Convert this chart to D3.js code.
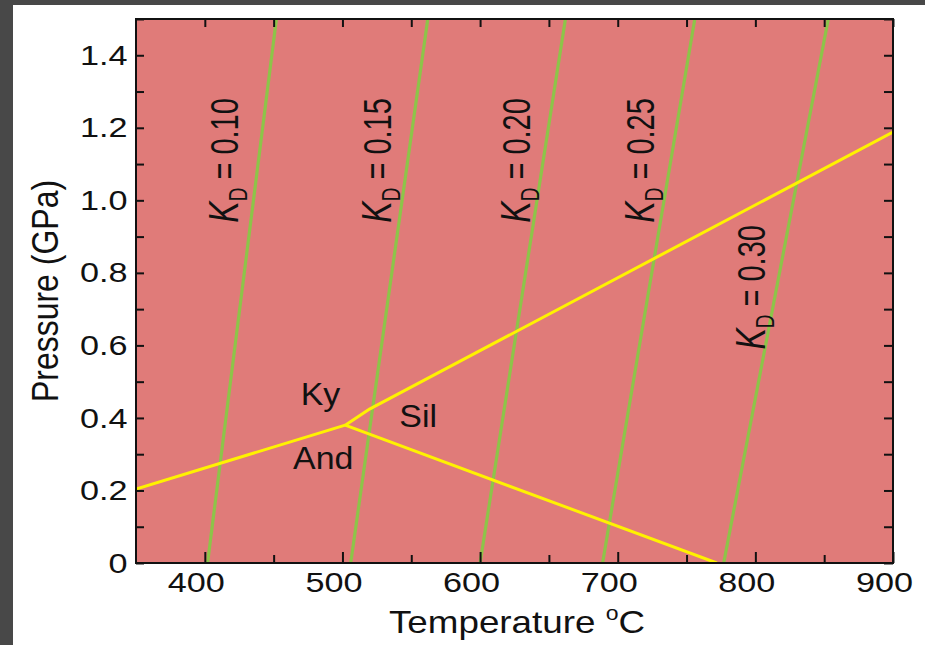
<!DOCTYPE html>
<html>
<head>
<meta charset="utf-8">
<script src="https://cdn.jsdelivr.net/npm/d3@7"></script>
<style>
  body { margin: 0; background: #fff; }
  svg { display: block; font-family: "Liberation Sans", Arial, sans-serif; }
</style>
</head>
<body>
<script>
const width = 925, height = 645;
const margin = {top: 19, right: 32, bottom: 82, left: 136};

// KD isopleths: temperature (°C) where each line meets P = 0 and P = 1.5 GPa
const kdNames = ["0.10", "0.15", "0.20", "0.25", "0.30"];
const kdTempBottom = [402, 506, 600, 689, 777];
const kdTempTop = [452, 562, 662, 756, 853];
// label spots: T of the text baseline, P of the text middle
const kdLabelT = [424, 535, 636, 726, 807];
const kdLabelP = [1.11, 1.11, 1.11, 1.11, 0.76];

// Al2SiO5 reaction lines, [T, P]
const kyAnd = [[350, 0.204], [502, 0.38]];
const kySil = [[502, 0.38], [520, 0.425], [900, 1.188]];
const andSil = [[502, 0.38], [772, 0]];
const fieldNames = ["Ky", "Sil", "And"];
const fieldT = [484, 555, 486];
const fieldP = [0.436, 0.375, 0.259];

const xTicks = [400, 450, 500, 550, 600, 650, 700, 750, 800, 850, 900];
const xLabels = [400, 500, 600, 700, 800, 900];
const yTicks = [0, 0.1, 0.2, 0.3, 0.4, 0.5, 0.6, 0.7, 0.8, 0.9, 1.0, 1.1, 1.2, 1.3, 1.4, 1.5];
const yLabels = [0, 0.2, 0.4, 0.6, 0.8, 1.0, 1.2, 1.4];

const x = d3.scaleLinear().domain([350, 900]).range([margin.left, width - margin.right]);
const y = d3.scaleLinear().domain([0, 1.5]).range([height - margin.bottom, margin.top]);

const svg = d3.select("body").append("svg").attr("width", width).attr("height", height);

// dark frame of the screenshot
svg.append("rect").attr("width", width).attr("height", height).attr("fill", "#484848");
svg.append("rect").attr("x", 13).attr("y", 5).attr("width", width - 13).attr("height", height - 5).attr("fill", "#fff");

svg.append("clipPath").attr("id", "plot")
  .append("rect")
  .attr("x", x(350)).attr("y", y(1.5))
  .attr("width", x(900) - x(350)).attr("height", y(0) - y(1.5));

svg.append("rect")
  .attr("x", x(350)).attr("y", y(1.5))
  .attr("width", x(900) - x(350)).attr("height", y(0) - y(1.5))
  .attr("fill", "#e07b79");

const plot = svg.append("g").attr("clip-path", "url(#plot)");

const line = d3.line().x(d => x(d[0])).y(d => y(d[1]));

// green KD lines
plot.selectAll(".kd")
  .data(kdNames)
  .join("path")
  .attr("class", "kd")
  .attr("fill", "none")
  .attr("stroke", "#8dc449")
  .attr("stroke-width", 3.2)
  .attr("d", (d, i) => line([[kdTempBottom[i], 0], [kdTempTop[i], 1.5]]));

// yellow reaction lines
plot.selectAll(".rx")
  .data([kyAnd, kySil, andSil])
  .join("path")
  .attr("class", "rx")
  .attr("fill", "none")
  .attr("stroke", "#fff200")
  .attr("stroke-width", 3)
  .attr("stroke-linejoin", "round")
  .attr("d", line);

// KD labels, rotated
const kdText = svg.selectAll(".kdlabel")
  .data(kdNames)
  .join("text")
  .attr("class", "kdlabel")
  .attr("transform", (d, i) => `translate(${x(kdLabelT[i])},${y(kdLabelP[i])}) scale(1.32,1) rotate(-90)`)
  .attr("text-anchor", "middle")
  .attr("font-size", 29)
  .attr("fill", "#111");
kdText.append("tspan").attr("font-style", "italic").attr("font-size", 32).text("K");
kdText.append("tspan").attr("font-size", 19).attr("dy", 7).text("D");
kdText.append("tspan").attr("dy", -7).text(d => " = " + d);

// field labels
svg.selectAll(".field")
  .data(fieldNames)
  .join("text")
  .attr("class", "field")
  .attr("transform", (d, i) => `translate(${x(fieldT[i])},${y(fieldP[i])}) scale(1.06,1)`)
  .attr("text-anchor", "middle")
  .attr("font-size", 32)
  .attr("fill", "#111")
  .text(d => d);

// axes, ticks pointing inward
const fmtY = d => d === 0 ? "0" : d.toFixed(1);

svg.append("g")
  .attr("transform", `translate(0,${y(0)})`)
  .call(d3.axisBottom(x).tickValues(xTicks).tickSizeInner(-8).tickSizeOuter(0)
    .tickFormat(d => xLabels.includes(d) ? d : ""))
  .call(g => g.select(".domain").remove())
  .call(g => g.selectAll(".tick").filter(d => xLabels.includes(d)).select("line").attr("y2", -11))
  .call(g => g.selectAll("text")
    .attr("y", 9)
    .attr("transform", "translate(-9,0) scale(1.2,1)")
    .attr("font-size", 28.5)
    .attr("font-family", null)
    .attr("fill", "#111"));

svg.append("g")
  .attr("transform", `translate(0,${y(1.5)})`)
  .call(d3.axisTop(x).tickValues(xTicks).tickSizeInner(-8).tickSizeOuter(0).tickFormat(""))
  .call(g => g.select(".domain").remove());

svg.append("g")
  .attr("transform", `translate(${x(350)},0)`)
  .call(d3.axisLeft(y).tickValues(yTicks).tickSizeInner(-8).tickSizeOuter(0)
    .tickFormat(d => yLabels.some(v => Math.abs(v - d) < 1e-6) ? fmtY(d) : ""))
  .call(g => g.select(".domain").remove())
  .call(g => g.selectAll("text")
    .attr("x", -7)
    .attr("transform", "scale(1.2,1)")
    .attr("font-size", 28.5)
    .attr("font-family", null)
    .attr("fill", "#111"));

svg.append("g")
  .attr("transform", `translate(${x(900)},0)`)
  .call(d3.axisRight(y).tickValues(yTicks).tickSizeInner(-9).tickSizeOuter(0).tickFormat(""))
  .call(g => g.select(".domain").remove());

svg.selectAll(".tick line").attr("stroke", "#111").attr("stroke-width", 2);

// plot border
svg.append("rect")
  .attr("x", x(350)).attr("y", y(1.5))
  .attr("width", x(900) - x(350)).attr("height", y(0) - y(1.5))
  .attr("fill", "none")
  .attr("stroke", "#111")
  .attr("stroke-width", 2);

// axis titles
const xTitle = svg.append("text")
  .attr("transform", `translate(517,633) scale(1.15,1)`)
  .attr("text-anchor", "middle")
  .attr("font-size", 32)
  .attr("fill", "#111");
xTitle.append("tspan").text("Temperature ");
xTitle.append("tspan").attr("font-size", 20).attr("dy", -13).text("o");
xTitle.append("tspan").attr("dy", 13).text("C");

svg.append("text")
  .attr("transform", `translate(58,291) scale(1.15,1) rotate(-90)`)
  .attr("text-anchor", "middle")
  .attr("font-size", 32)
  .attr("fill", "#111")
  .text("Pressure (GPa)");
</script>
</body>
</html>
